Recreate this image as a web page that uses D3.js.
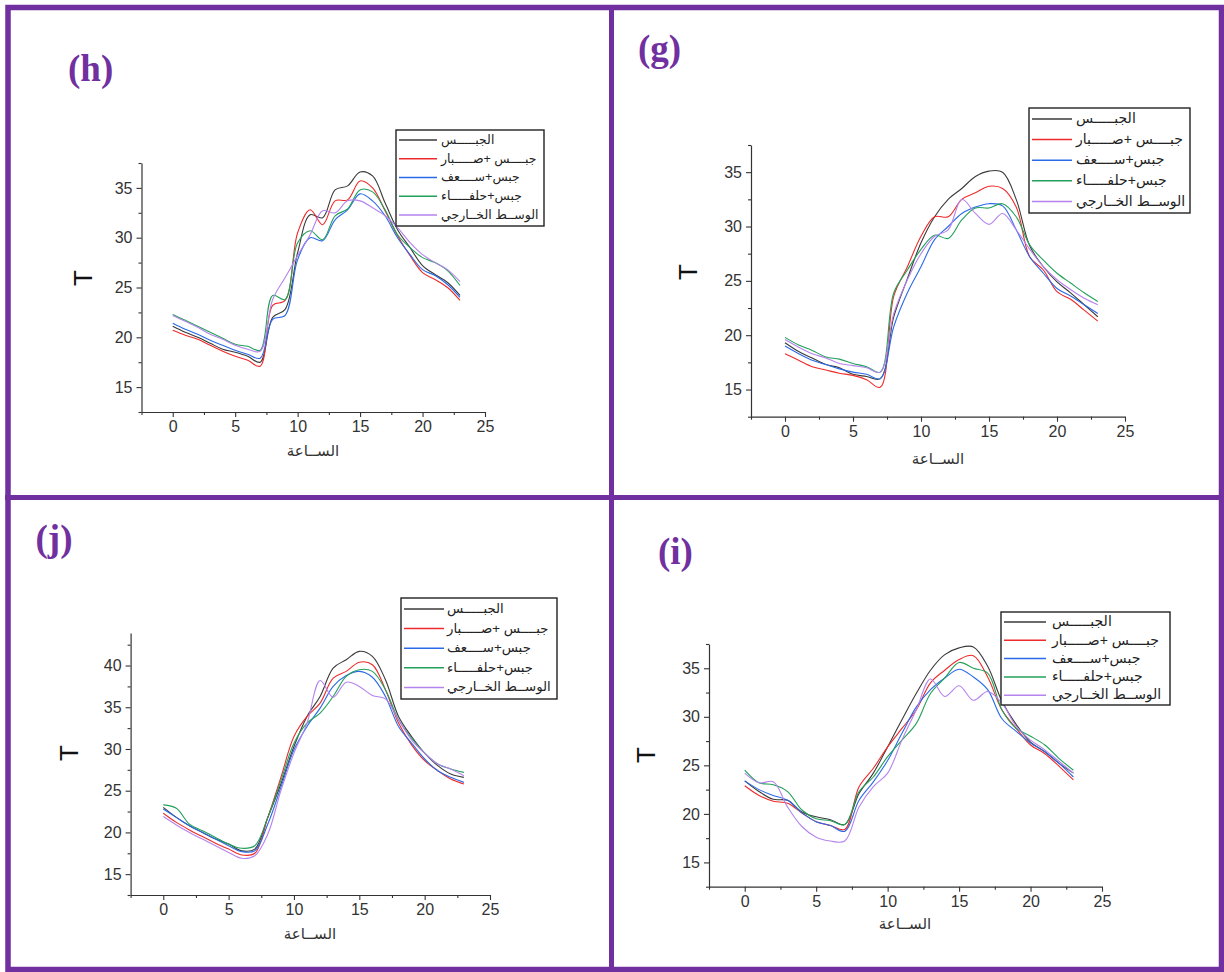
<!DOCTYPE html>
<html>
<head>
<meta charset="utf-8">
<script src="https://cdn.jsdelivr.net/npm/d3@7"></script>
<style>
  body { margin: 0; background: #fff; }
  svg { display: block; }
</style>
</head>
<body>
<svg id="fig" width="1224" height="972"></svg>
<script>
// hours of the day (x values)
const hours = [0, 1, 2, 3, 4, 5, 6, 7, 8, 9, 10, 11, 12, 13, 14, 15, 16, 17, 18, 19, 20, 21, 22, 23];
const xMajor = [0, 5, 10, 15, 20, 25];

const seriesNames = ['الجبـــــس', 'جبــــس +صـــــبار', 'جبس+ســــعف', 'جبس+حلفـــــاء', 'الوســط الخــارجي'];
const xTitle = 'الســاعة';
const yTitle = 'T';

// panel (h)
const hGypsum = [21.1, 20.5, 20.0, 19.4, 18.8, 18.5, 18.1, 17.5, 22.0, 22.8, 28.5, 32.3, 32.0, 34.8, 35.2, 36.6, 36.2, 33.5, 30.8, 29.0, 27.2, 26.3, 25.5, 24.2];
const hCactus = [20.7, 20.2, 19.8, 19.2, 18.6, 18.1, 17.7, 17.1, 23.2, 23.7, 30.5, 32.8, 31.3, 33.7, 33.8, 35.7, 35.0, 32.7, 30.2, 28.2, 26.5, 25.8, 25.0, 23.7];
const hPalm = [21.4, 20.8, 20.3, 19.7, 19.2, 18.7, 18.3, 17.9, 21.8, 22.2, 27.8, 30.0, 29.7, 31.8, 32.8, 34.4, 33.7, 32.2, 30.0, 28.3, 26.8, 26.2, 25.3, 24.0];
const hHalfa = [22.3, 21.7, 21.1, 20.5, 19.9, 19.3, 19.1, 18.7, 24.2, 23.8, 29.5, 30.7, 29.8, 32.2, 32.9, 34.8, 34.6, 32.8, 30.3, 29.0, 28.0, 27.5, 26.7, 25.2];
const hOutside = [22.2, 21.6, 21.0, 20.3, 19.8, 19.2, 18.8, 18.6, 23.8, 26.0, 28.2, 30.3, 32.7, 32.5, 33.7, 33.7, 33.0, 32.2, 31.0, 29.5, 28.3, 27.5, 26.8, 25.6];

// panel (g)
const gGypsum = [19.3, 18.5, 17.9, 17.3, 17.0, 16.4, 16.2, 16.0, 21.7, 25.2, 28.5, 30.9, 32.5, 33.5, 34.6, 35.1, 35.0, 32.5, 28.2, 26.3, 24.9, 23.9, 22.8, 21.7];
const gCactus = [18.3, 17.7, 17.1, 16.8, 16.5, 16.3, 15.9, 15.2, 23.6, 26.3, 29.1, 30.9, 30.9, 32.5, 33.1, 33.7, 33.5, 31.8, 27.2, 26.0, 24.0, 23.3, 22.3, 21.3];
const gPalm = [19.0, 18.3, 17.7, 17.3, 16.9, 16.6, 16.4, 16.0, 20.8, 23.9, 26.3, 28.8, 30.0, 31.2, 31.8, 32.1, 31.9, 29.7, 27.2, 25.7, 24.3, 23.6, 22.8, 22.0];
const gHalfa = [19.8, 19.1, 18.6, 18.0, 17.8, 17.4, 17.1, 16.6, 23.9, 26.0, 27.9, 29.2, 28.9, 30.6, 31.7, 31.7, 32.1, 30.9, 28.3, 26.9, 25.7, 24.8, 23.9, 23.1];
const gOutside = [19.6, 18.9, 18.3, 17.9, 17.4, 17.2, 17.0, 16.6, 22.0, 25.1, 27.5, 29.1, 29.7, 32.5, 31.2, 30.2, 31.2, 29.7, 27.9, 26.3, 25.1, 24.2, 23.4, 22.8];

// panel (j)
const jGypsum = [23.0, 21.8, 20.8, 20.0, 19.2, 18.6, 17.8, 18.0, 21.8, 25.8, 30.3, 33.9, 36.3, 39.7, 40.7, 41.7, 41.1, 38.3, 33.9, 31.5, 29.5, 28.0, 27.0, 26.6];
const jCactus = [22.3, 21.2, 20.3, 19.5, 18.7, 18.0, 17.3, 17.5, 21.8, 26.6, 31.5, 33.9, 35.5, 38.5, 39.3, 40.4, 40.1, 37.1, 33.1, 30.5, 28.6, 27.4, 26.4, 25.8];
const jPalm = [22.8, 21.8, 20.8, 20.0, 19.2, 18.4, 17.7, 17.8, 21.0, 25.4, 29.9, 32.7, 34.9, 37.5, 38.8, 39.3, 38.6, 36.3, 32.7, 30.7, 28.8, 27.4, 26.6, 26.0];
const jHalfa = [23.3, 22.9, 21.0, 20.2, 19.4, 18.6, 18.1, 18.4, 21.8, 26.2, 30.7, 33.1, 34.3, 36.3, 38.7, 39.5, 39.3, 37.1, 33.5, 31.3, 29.5, 28.2, 27.6, 27.2];
const jOutside = [21.9, 20.9, 20.0, 19.2, 18.4, 17.6, 16.9, 17.2, 19.8, 25.0, 29.5, 33.1, 38.2, 36.2, 38.0, 37.5, 36.4, 36.0, 33.5, 31.1, 29.5, 28.2, 27.6, 26.8];

// panel (i)
const iGypsum = [23.4, 22.3, 21.5, 21.4, 20.2, 19.7, 19.4, 18.9, 22.1, 24.2, 26.9, 29.7, 32.4, 34.8, 36.4, 37.1, 37.2, 35.2, 31.6, 29.2, 27.4, 26.4, 25.2, 24.2];
const iCactus = [22.9, 21.9, 21.3, 21.1, 20.1, 19.2, 18.8, 18.4, 22.8, 24.7, 26.9, 28.8, 30.7, 33.5, 34.8, 35.9, 36.3, 34.1, 30.7, 28.8, 27.1, 26.2, 24.9, 23.5];
const iPalm = [23.4, 22.5, 21.9, 21.4, 20.1, 19.2, 18.8, 18.2, 21.4, 23.3, 25.5, 28.3, 31.0, 32.8, 34.0, 34.9, 34.1, 32.8, 29.8, 28.5, 27.3, 26.4, 25.2, 23.8];
const iHalfa = [24.5, 23.2, 23.0, 22.3, 20.4, 19.5, 19.3, 18.9, 22.3, 23.8, 25.9, 27.6, 29.3, 32.4, 34.0, 35.6, 35.0, 34.5, 30.7, 28.8, 28.0, 27.1, 25.7, 24.5];
const iOutside = [24.2, 23.2, 23.3, 20.7, 18.7, 17.6, 17.2, 17.2, 20.7, 22.8, 24.2, 27.6, 30.7, 33.9, 32.1, 33.2, 31.7, 32.6, 31.4, 29.0, 27.6, 26.6, 25.4, 24.2];

const seriesColors = ['#3a3a3a', '#ee2a2a', '#2a6ae8', '#22a05a', '#b583ee'];
const purple = '#7030a0';
const textFont = "'Liberation Sans', 'DejaVu Sans', Arial, sans-serif";

const panels = [
  { letter: '(h)', data: [hGypsum, hCactus, hPalm, hHalfa, hOutside],
    left: 141.5, right: 485, top: 163, bottom: 412, yDomain: [12.5, 37.5], yMajor: [15, 20, 25, 30, 35],
    letterPos: [68, 81], tPos: [83, 278], xTitlePos: [313, 456],
    legend: { x: 396, y: 130, w: 148, h: 96, first: 10, pitch: 18.75, lineW: 38, textX: 45, font: 12.5 } },
  { letter: '(g)', data: [gGypsum, gCactus, gPalm, gHalfa, gOutside],
    left: 751, right: 1125, top: 145, bottom: 416.7, yDomain: [12.5, 37.5], yMajor: [15, 20, 25, 30, 35],
    letterPos: [638, 60.5], tPos: [687.5, 272], xTitlePos: [938, 464],
    legend: { x: 1029, y: 108, w: 161, h: 105, first: 11, pitch: 20.6, lineW: 40, textX: 47, font: 14 } },
  { letter: '(j)', data: [jGypsum, jCactus, jPalm, jHalfa, jOutside],
    left: 130.6, right: 490, top: 633, bottom: 895, yDomain: [12.5, 43.9], yMajor: [15, 20, 25, 30, 35, 40],
    letterPos: [35.5, 550.5], tPos: [69, 753], xTitlePos: [310, 939],
    legend: { x: 401, y: 598, w: 156, h: 101, first: 11, pitch: 19.6, lineW: 40, textX: 46, font: 13.3 } },
  { letter: '(i)', data: [iGypsum, iCactus, iPalm, iHalfa, iOutside],
    left: 709, right: 1102, top: 644, bottom: 886.7, yDomain: [12.5, 37.5], yMajor: [15, 20, 25, 30, 35],
    letterPos: [658, 563.5], tPos: [646, 755], xTitlePos: [905, 929],
    legend: { x: 1001, y: 612, w: 169, h: 93, first: 10, pitch: 18.3, lineW: 42, textX: 51, font: 14 } }
];

const svg = d3.select('#fig');

// purple frame + dividers
svg.append('rect')
  .attr('x', 8).attr('y', 7.5).attr('width', 1213.5).attr('height', 962)
  .attr('fill', 'none').attr('stroke', purple).attr('stroke-width', 5.5);
svg.append('line')
  .attr('x1', 611.5).attr('x2', 611.5).attr('y1', 5).attr('y2', 972)
  .attr('stroke', purple).attr('stroke-width', 5);
svg.append('line')
  .attr('x1', 5).attr('x2', 1224).attr('y1', 497.5).attr('y2', 497.5)
  .attr('stroke', purple).attr('stroke-width', 5);

const minorOf = (domain) => {
  const out = [];
  for (let v = domain[0]; v <= domain[1] + 1e-6; v += 2.5) {
    if (Math.abs(v % 5) > 1e-6) out.push(v);
  }
  return out;
};

const styleAxis = sel => {
  sel.select('.domain').attr('stroke', '#333').attr('stroke-width', 1.2);
  sel.selectAll('.tick line').attr('stroke', '#333').attr('stroke-width', 1.1);
  sel.selectAll('.tick text')
    .attr('fill', '#333')
    .style('font-family', textFont)
    .style('font-size', '16px');
};

panels.forEach(p => {
  const x = d3.scaleLinear().domain([-2.5, 25]).range([p.left, p.right]);
  const y = d3.scaleLinear().domain(p.yDomain).range([p.bottom, p.top]);
  const g = svg.append('g');

  // minor ticks
  g.append('g')
    .attr('transform', `translate(0,${p.bottom})`)
    .call(d3.axisBottom(x).tickValues(minorOf([-2.5, 25])).tickSize(3).tickFormat(''))
    .call(s => s.select('.domain').remove())
    .call(styleAxis);
  g.append('g')
    .attr('transform', `translate(${p.left},0)`)
    .call(d3.axisLeft(y).tickValues(minorOf(p.yDomain)).tickSize(3).tickFormat(''))
    .call(s => s.select('.domain').remove())
    .call(styleAxis);

  // major ticks + axis lines
  g.append('g')
    .attr('transform', `translate(0,${p.bottom})`)
    .call(d3.axisBottom(x).tickValues(xMajor).tickSize(5).tickSizeOuter(0).tickPadding(4).tickFormat(d3.format('d')))
    .call(styleAxis);
  g.append('g')
    .attr('transform', `translate(${p.left},0)`)
    .call(d3.axisLeft(y).tickValues(p.yMajor).tickSize(5).tickSizeOuter(0).tickPadding(4).tickFormat(d3.format('d')))
    .call(styleAxis);

  // lines
  const line = d3.line()
    .x((d, i) => x(hours[i]))
    .y(d => y(d))
    .curve(d3.curveCatmullRom.alpha(0.5));
  p.data.forEach((vals, k) => {
    g.append('path')
      .datum(vals)
      .attr('d', line)
      .attr('fill', 'none')
      .attr('stroke', seriesColors[k])
      .attr('stroke-width', 1.1);
  });

  // titles
  g.append('text')
    .attr('x', p.letterPos[0]).attr('y', p.letterPos[1])
    .attr('fill', purple)
    .style('font-family', "'Liberation Serif', 'Times New Roman', serif")
    .style('font-weight', 'bold')
    .style('font-size', '37px')
    .text(p.letter);

  g.append('text')
    .attr('transform', `translate(${p.tPos[0]},${p.tPos[1]}) rotate(-90)`)
    .attr('text-anchor', 'middle')
    .attr('dy', '0.35em')
    .attr('fill', '#111')
    .style('font-family', textFont)
    .style('font-size', '26px')
    .text(yTitle);

  g.append('text')
    .attr('x', p.xTitlePos[0]).attr('y', p.xTitlePos[1])
    .attr('text-anchor', 'middle')
    .attr('fill', '#333')
    .style('font-family', textFont)
    .style('font-size', '15px')
    .text(xTitle);

  // legend
  const L = p.legend;
  const lg = g.append('g').attr('transform', `translate(${L.x},${L.y})`);
  lg.append('rect')
    .attr('width', L.w).attr('height', L.h)
    .attr('fill', '#fff').attr('stroke', '#222').attr('stroke-width', 1.4);
  seriesNames.forEach((name, k) => {
    const cy = L.first + k * L.pitch;
    lg.append('line')
      .attr('x1', 3).attr('x2', 3 + L.lineW).attr('y1', cy).attr('y2', cy)
      .attr('stroke', seriesColors[k]).attr('stroke-width', 1.5);
    lg.append('text')
      .attr('x', L.textX).attr('y', cy)
      .attr('dy', '0.3em')
      .attr('fill', '#222')
      .style('font-family', textFont)
      .style('font-size', L.font + 'px')
      .text(name);
  });
});
</script>
</body>
</html>
